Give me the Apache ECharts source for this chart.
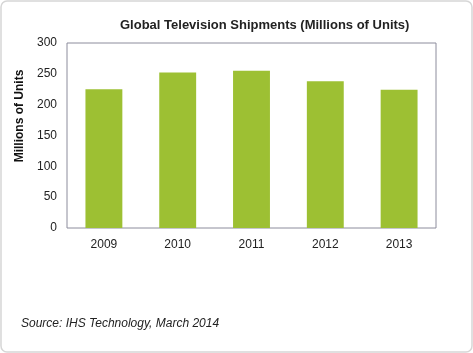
<!DOCTYPE html>
<html>
<head>
<meta charset="utf-8">
<script src="https://cdn.jsdelivr.net/npm/echarts@6/dist/echarts.min.js"></script>
<style>
  html, body { margin: 0; padding: 0; background: #fff; }
  #chart { width: 473px; height: 353px; }
</style>
</head>
<body>
<div id="chart"></div>
<script>
// data
const years = ['2009', '2010', '2011', '2012', '2013'];
const shipments = [225, 252, 255, 238, 224];
const yTicks = [0, 50, 100, 150, 200, 250, 300];

const chart = echarts.init(document.getElementById('chart'), null, { renderer: 'canvas' });

chart.setOption({
  animation: false,
  backgroundColor: '#fff',
  title: {
    text: 'Global Television Shipments (Millions of Units)',
    left: 115,
    top: 14,
    textStyle: { fontFamily: 'Liberation Sans, Arial', fontSize: 13, fontWeight: 'bold', color: '#222' }
  },
  graphic: [
    {
      type: 'rect',
      shape: { x: 1, y: 1, width: 471, height: 351, r: 6 },
      style: { fill: 'none', stroke: '#d6d6d6', lineWidth: 1.5 },
      silent: true
    },
    {
      // y axis title sits a bit above the plot middle in the original
      type: 'text',
      x: 20,
      y: 116,
      rotation: Math.PI / 2,
      style: {
        text: 'Millions of Units',
        font: 'bold 12px "Liberation Sans", Arial',
        fill: '#111',
        textAlign: 'center',
        textVerticalAlign: 'middle'
      }
    },
    {
      type: 'text',
      left: 21,
      top: 318,
      style: {
        text: 'Source: IHS Technology, March 2014',
        font: 'italic 12px "Liberation Sans", Arial',
        fill: '#222'
      }
    }
  ],
  grid: {
    left: 67, right: 37, top: 43, bottom: 125,
    show: true, borderColor: '#8c8c9c', borderWidth: 1, backgroundColor: 'transparent'
  },
  xAxis: {
    type: 'category',
    data: years,
    axisLine: { show: false },
    axisTick: { show: false },
    axisLabel: { fontFamily: 'Liberation Sans, Arial', fontSize: 12, color: '#222', margin: 11 }
  },
  yAxis: {
    type: 'value',
    min: yTicks[0],
    max: yTicks[yTicks.length - 1],
    interval: yTicks[1] - yTicks[0],
    splitLine: { show: false },
    axisLine: { show: false },
    axisTick: { show: false },
    axisLabel: { fontFamily: 'Liberation Sans, Arial', fontSize: 12, color: '#222', margin: 10 }
  },
  series: [{
    type: 'bar',
    data: shipments,
    barWidth: '50%',
    itemStyle: { color: '#9dc033' }
  }]
});
</script>
</body>
</html>
